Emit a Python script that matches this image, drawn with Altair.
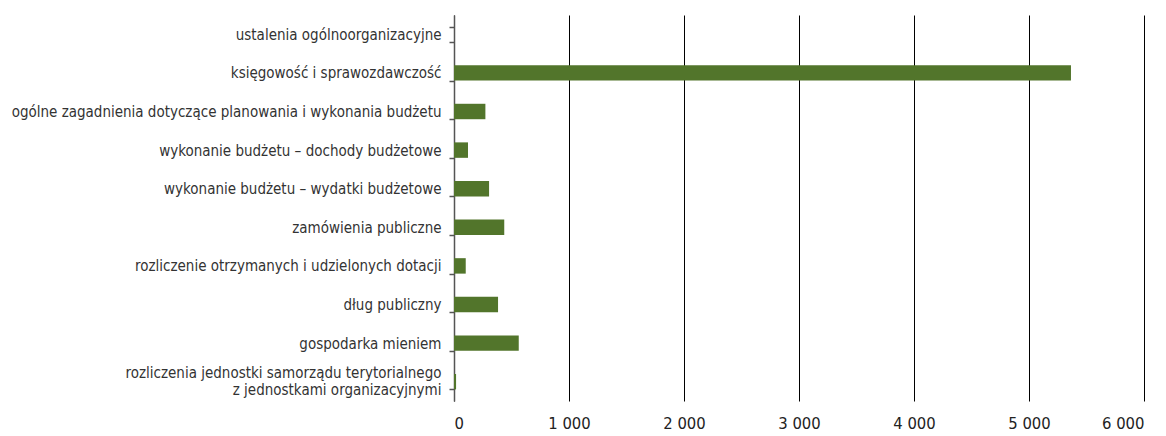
import altair as alt
import pandas as pd

categories = [
    "ustalenia ogólnoorganizacyjne",
    "księgowość i sprawozdawczość",
    "ogólne zagadnienia dotyczące planowania i wykonania budżetu",
    "wykonanie budżetu – dochody budżetowe",
    "wykonanie budżetu – wydatki budżetowe",
    "zamówienia publiczne",
    "rozliczenie otrzymanych i udzielonych dotacji",
    "dług publiczny",
    "gospodarka mieniem",
    "rozliczenia jednostki samorządu terytorialnego|z jednostkami organizacyjnymi",
]
values = [0, 5365, 273, 122, 305, 437, 102, 383, 563, 18]
x_ticks = [0, 1000, 2000, 3000, 4000, 5000, 6000]

df = pd.DataFrame({"kategoria": categories, "wartosc": values})

FONT = "'DejaVu Sans Condensed', 'Liberation Sans', sans-serif"

chart = (
    alt.Chart(df)
    .mark_bar(color="#52752b", strokeWidth=0)
    .encode(
        x=alt.X(
            "wartosc:Q",
            scale=alt.Scale(domain=[0, 6000], nice=False),
            axis=alt.Axis(
                values=x_ticks,
                title=None,
                domain=False,
                ticks=False,
                grid=True,
                gridColor="#000000",
                gridWidth=1,
                gridOpacity=1,
                labelFont=FONT,
                labelFontSize=16.5,
                labelColor="#222222",
                labelPadding=14,
                labelExpr="replace(format(datum.value, ','), ',', ' ')",
            ),
        ),
        y=alt.Y(
            "kategoria:N",
            sort=categories,
            scale=alt.Scale(paddingInner=0.6, paddingOuter=0.3),
            axis=alt.Axis(
                title=None,
                domain=True,
                domainColor="#555555",
                domainWidth=1.5,
                ticks=True,
                tickBand="extent",
                tickColor="#555555",
                tickSize=5,
                tickWidth=1.5,
                labelFont=FONT,
                labelFontSize=15,
                labelColor="#333333",
                labelPadding=8,
                labelLimit=0,
                labelExpr="split(datum.label, '|')",
                labelLineHeight=17,
                labelOffset={
                    "condition": {"test": "indexof(datum.label, '|') >= 0", "value": -9},
                    "value": 0,
                },
            ),
        ),
    )
    .properties(
        width=690,
        height=386,
        autosize=alt.AutoSizeParams(type="none"),
        padding={"left": 446, "top": 7, "right": 14, "bottom": 34},
    )
    .configure_view(stroke=None)
)

chart.save("out.html", embed_options={"renderer": "svg", "actions": False})
